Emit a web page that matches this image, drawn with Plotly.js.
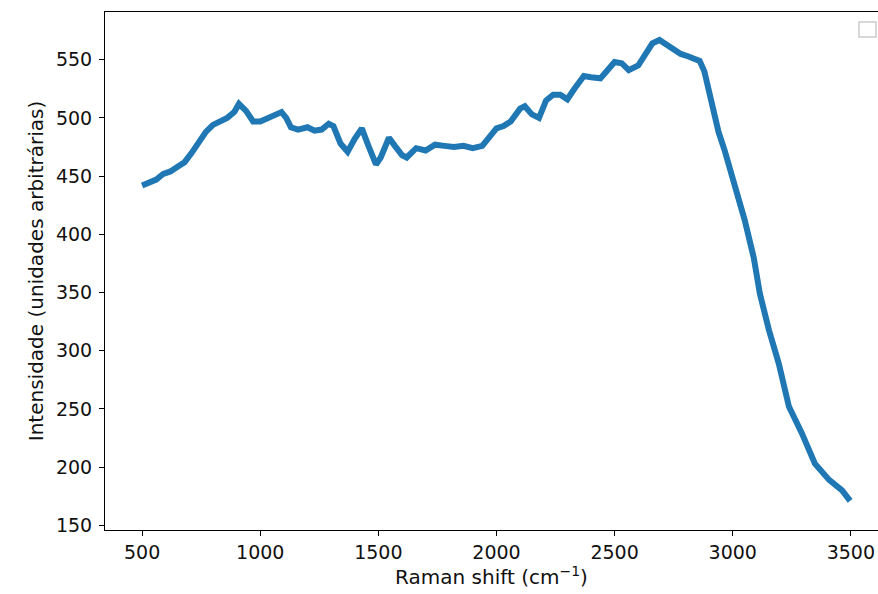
<!DOCTYPE html>
<html>
<head>
<meta charset="utf-8">
<script src="https://cdn.plot.ly/plotly-3.0.1.min.js"></script>
<style>html,body{margin:0;padding:0;background:#fff;overflow:hidden}</style>
</head>
<body>
<div id="chart" style="width:878px;height:594px"></div>
<script>
const ramanShift = [500,530,560,590,620,650,680,710,740,770,800,830,860,890,910,940,970,1000,1030,1060,1090,1110,1130,1160,1200,1230,1260,1290,1310,1340,1370,1400,1430,1460,1490,1510,1545,1570,1600,1620,1660,1700,1740,1780,1820,1860,1900,1940,1970,2000,2030,2060,2100,2120,2150,2180,2210,2240,2270,2300,2330,2370,2400,2440,2470,2500,2530,2560,2600,2630,2660,2690,2720,2750,2780,2810,2840,2860,2880,2900,2911,2940,2966,3008,3051,3089,3115,3153,3195,3238,3293,3348,3408,3463,3497];
const intensity = [442,444,447,452,454,458,462,470,480,488,494,497,500,505,512,506,497,497,500,503,505,500,492,490,492,489,490,495,493,478,471,482,491,475,460,466,483,476,468,466,474,472,477,476,475,476,474,476,483,491,493,497,508,510,503,500,515,520,520,516,525,536,535,534,541,548,547,541,545,555,564,567,563,558,555,553,551,549,540,522,509,488,472,444,412,380,349,318,289,252,229,203,189,180,171];
const xTicks = [500,1000,1500,2000,2500,3000,3500];
const yTicks = [150,200,250,300,350,400,450,500,550];

const tickFont = {family: 'DejaVu Sans, sans-serif', size: 19, color: '#111'};
const titleFont = {family: 'DejaVu Sans, sans-serif', size: 20, color: '#111'};
Plotly.newPlot('chart', [{
  x: ramanShift, y: intensity, type: 'scatter', mode: 'lines',
  line: {color: '#1f77b4', width: 6}, showlegend: false
}], {
  width: 878, height: 594,
  margin: {l: 105, r: 0, t: 12, b: 64},
  paper_bgcolor: '#fff', plot_bgcolor: '#fff',
  font: tickFont,
  xaxis: {
    range: [343, 3615], tickvals: xTicks, ticktext: xTicks.map(String),
    ticks: 'outside', ticklen: 5, tickwidth: 1, tickcolor: '#000',
    showline: true, linecolor: '#000', linewidth: 1, mirror: true,
    showgrid: false, zeroline: false, tickfont: tickFont, automargin: false,
    title: {text: 'Raman shift (cm<sup>−1</sup>)', font: titleFont, standoff: 8}
  },
  yaxis: {
    range: [146, 591], tickvals: yTicks, ticktext: yTicks.map(String),
    ticks: 'outside', ticklen: 5, tickwidth: 1, tickcolor: '#000',
    showline: true, linecolor: '#000', linewidth: 1, mirror: false,
    showgrid: false, zeroline: false, tickfont: tickFont, automargin: false,
    ticklabelstandoff: 3,
    title: {text: 'Intensidade (unidades arbitrárias)', font: titleFont, standoff: 6}
  },
  shapes: [{
    type: 'rect', xref: 'paper', yref: 'paper',
    x0: 0.9754, x1: 0.9974, y0: 0.9517, y1: 0.9807,
    line: {color: '#cccccc', width: 1.5}, fillcolor: 'rgba(255,255,255,0.8)'
  }]
}, {displayModeBar: false, staticPlot: true});
</script>
</body>
</html>
